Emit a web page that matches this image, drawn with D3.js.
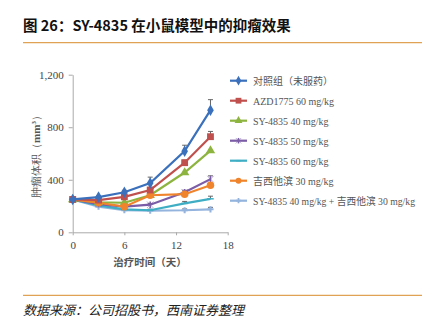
<!DOCTYPE html>
<html><head><meta charset="utf-8">
<script src="https://cdn.jsdelivr.net/npm/d3@7"></script>
<style>html,body{margin:0;padding:0;background:#fff;}</style>
</head><body>
<svg id="c" width="430" height="329"></svg>
<script>
const days = [0, 3, 6, 9, 13, 16];
const seriesNames = ["对照组（未服药）","AZD1775 60 mg/kg","SY-4835 40 mg/kg","SY-4835 50 mg/kg","SY-4835 60 mg/kg","吉西他滨 30 mg/kg","SY-4835 40 mg/kg + 吉西他滨 30 mg/kg"];
const control   = [250, 268, 305, 375, 618, 930];
const azd       = [250, 245, 270, 322, 530, 728];
const sy40      = [250, 228, 225, 282, 455, 622];
const sy50      = [250, 215, 195, 210, 305, 405];
const sy60      = [250, 205, 175, 168, 220, 255];
const gem       = [250, 225, 195, 282, 290, 358];
const combo     = [250, 195, 168, 165, 168, 175];
const errControl = [0, 10, 15, 45, 45, 80];
const errAzd     = [0, 10, 12, 20, 20, 40];
const errSy50    = [0, 8, 8, 10, 15, 25];
const errSy60    = [0, 8, 8, 8, 15, 20];
const errCombo   = [0, 8, 8, 8, 10, 15];
const yTicks = [0, 400, 800, 1200];
const xTicks = [0, 6, 12, 18];

const colors = ["#3A70BC","#C0504D","#8DB43F","#7B5CA6","#3FAEC4","#F0842C","#94B4DE"];
const shapes = ["diamond","square","triangle","star","x","circle","plus"];
const data = [control, azd, sy40, sy50, sy60, gem, combo];
const errs = [errControl, errAzd, null, errSy50, errSy60, null, errCombo];

const svg = d3.select("#c");
svg.append("text").attr("x", 23).attr("y", 31).attr("font-family","'Noto Sans CJK SC','Liberation Sans',sans-serif")
  .attr("font-weight","bold").attr("font-size",14.5).attr("fill","#111").text("图 26：SY-4835 在小鼠模型中的抑瘤效果");
svg.append("line").attr("x1",23).attr("x2",422).attr("y1",42.7).attr("y2",42.7).attr("stroke","#E0A355").attr("stroke-width",1.3);
svg.append("line").attr("x1",23).attr("x2",422).attr("y1",295.3).attr("y2",295.3).attr("stroke","#E0A355").attr("stroke-width",1.3);
svg.append("text").attr("x", 23).attr("y", 315).attr("font-family","'Noto Sans CJK SC',sans-serif")
  .attr("font-style","italic").attr("font-size",13).attr("fill","#222").text("数据来源：公司招股书，西南证券整理");

const x = d3.scaleLinear().domain([0,18]).range([72.7, 227.7]);
const y = d3.scaleLinear().domain([0,1200]).range([232.3, 74.7]);

const serif = "'Liberation Serif','Times New Roman',serif";
const gy = svg.append("g").attr("transform","translate(72.7,0)")
  .call(d3.axisLeft(y).tickValues(yTicks).tickSize(4).tickSizeOuter(0).tickPadding(5).tickFormat(d3.format(",")));
const gx = svg.append("g").attr("transform","translate(0,232.3)")
  .call(d3.axisBottom(x).tickValues(xTicks).tickSize(3).tickSizeOuter(0).tickPadding(6));
[gx, gy].forEach(g => {
  g.select(".domain").attr("stroke","#AAAAAA");
  g.selectAll(".tick line").attr("stroke","#AAAAAA");
  g.selectAll(".tick text").attr("font-family",serif).attr("font-size",11).attr("fill","#444");
});

svg.append("text").attr("transform","translate(40,154) rotate(-90)").attr("text-anchor","middle")
  .attr("font-family",serif).attr("font-size",11).attr("fill","#555")
  .html('肿瘤体积（<tspan font-weight="bold">mm</tspan><tspan font-size="7" dy="-4" font-weight="bold">3</tspan><tspan dy="4">）</tspan>');
svg.append("text").attr("x",150).attr("y",266).attr("text-anchor","middle")
  .attr("font-family","'Noto Sans CJK SC',serif").attr("font-weight","bold").attr("font-size",10.5).attr("fill","#555").text("治疗时间（天）");

function marker(g, shape, color, cx, cy, s) {
  if (shape === "diamond") {
    g.append("path").attr("d", d3.symbol(d3.symbolDiamond, s*s*0.9)()).attr("transform",`translate(${cx},${cy})`).attr("fill",color);
  } else if (shape === "square") {
    g.append("path").attr("d", d3.symbol(d3.symbolSquare, s*s*1.1)()).attr("transform",`translate(${cx},${cy})`).attr("fill",color);
  } else if (shape === "triangle") {
    g.append("path").attr("d", d3.symbol(d3.symbolTriangle, s*s*0.9)()).attr("transform",`translate(${cx},${cy})`).attr("fill",color);
  } else if (shape === "circle") {
    g.append("path").attr("d", d3.symbol(d3.symbolCircle, s*s*0.9)()).attr("transform",`translate(${cx},${cy})`).attr("fill",color);
  } else if (shape === "star") {
    g.append("path").attr("d", d3.symbol(d3.symbolTimes, s*s*0.7)()).attr("transform",`translate(${cx},${cy})`).attr("fill",color).attr("stroke",color).attr("stroke-width",0.5);
    g.append("line").attr("x1",cx).attr("x2",cx).attr("y1",cy-s/2).attr("y2",cy+s/2).attr("stroke",color).attr("stroke-width",1.5);
  } else if (shape === "x") {
    g.append("path").attr("d", d3.symbol(d3.symbolTimes, s*s*0.7)()).attr("transform",`translate(${cx},${cy})`).attr("fill",color);
    g.append("line").attr("x1",cx-s/2).attr("x2",cx+s/2).attr("y1",cy).attr("y2",cy).attr("stroke",color).attr("stroke-width",1.5);
  } else if (shape === "plus") {
    g.append("path").attr("d", d3.symbol(d3.symbolCross, s*s*0.5)()).attr("transform",`translate(${cx},${cy})`).attr("fill",color);
  }
}

const line = d3.line().x((d,i)=>x(days[i])).y(d=>y(d));
const plot = svg.append("g");
data.forEach((vals, si) => {
  const e = errs[si];
  if (e) {
    vals.forEach((v,i) => {
      if (!e[i]) return;
      plot.append("line").attr("x1",x(days[i])).attr("x2",x(days[i])).attr("y1",y(v)).attr("y2",y(v+e[i])).attr("stroke","#666").attr("stroke-width",1);
      plot.append("line").attr("x1",x(days[i])-2.5).attr("x2",x(days[i])+2.5).attr("y1",y(v+e[i])).attr("y2",y(v+e[i])).attr("stroke","#666").attr("stroke-width",1);
    });
  }
});
const order = [6,4,3,2,5,1,0];
order.forEach(si => {
  const vals = data[si];
  plot.append("path").attr("d", line(vals)).attr("fill","none").attr("stroke",colors[si]).attr("stroke-width",2.2);
  vals.forEach((v,i) => marker(plot, shapes[si], colors[si], x(days[i]), y(v), si===5?7:6.5));
});

const leg = svg.append("g");
seriesNames.forEach((n, i) => {
  const yy = 80.7 + i*20;
  leg.append("line").attr("x1",230).attr("x2",247).attr("y1",yy).attr("y2",yy).attr("stroke",colors[i]).attr("stroke-width",2.2);
  marker(leg, shapes[i], colors[i], 238.5, yy, 5.5);
  const t = leg.append("text").attr("x",253).attr("y",yy+3.8).attr("font-family",serif+",'Noto Sans CJK SC'").attr("font-size",10).attr("fill","#555").text(n);
  if (i === 6) t.attr("textLength",162).attr("lengthAdjust","spacingAndGlyphs");
});
</script>
</body></html>
